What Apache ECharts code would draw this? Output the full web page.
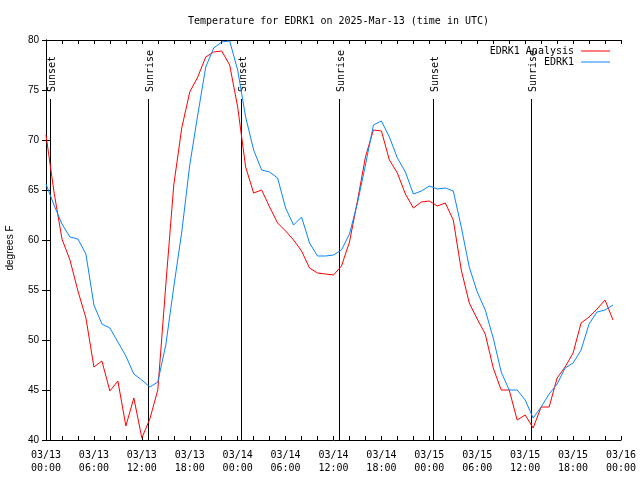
<!DOCTYPE html>
<html>
<head>
<meta charset="utf-8">
<script src="https://cdn.jsdelivr.net/npm/echarts@6/dist/echarts.min.js"></script>
<style>html,body{margin:0;padding:0;background:#fff}#c{width:640px;height:480px}</style>
</head>
<body>
<div id="c"></div>
<script>
// Hourly values, hour 0 = 03/13 00:00 UTC
const analysis = [70.5,64.8,60.1,58.0,54.9,52.2,47.3,47.9,44.9,45.9,41.4,44.2,40.2,42.1,45.0,55.5,65.5,71.2,74.8,76.3,78.3,78.8,78.9,77.5,
  73.3,67.3,64.7,65.0,63.3,61.7,60.9,60.0,58.9,57.2,56.7,56.6,56.5,57.4,59.8,63.9,68.3,71.0,70.9,68.0,66.7,64.6,63.2,63.8,
  63.9,63.4,63.7,62.0,57.0,53.7,52.1,50.6,47.2,45.0,45.0,42.0,42.5,41.2,43.3,43.3,46.2,47.3,48.7,51.7,52.3,53.1,54.0,52.0];
const observed = [65.6,63.5,61.6,60.3,60.1,58.6,53.5,51.6,51.2,49.8,48.4,46.6,46.0,45.3,45.8,49.5,55.3,60.8,67.5,72.5,77.3,79.2,79.8,79.9,
  77.0,72.3,69.0,67.0,66.8,66.2,63.2,61.5,62.3,59.7,58.4,58.4,58.5,59.0,60.6,63.7,67.5,71.5,71.9,70.3,68.2,66.8,64.6,64.9,
  65.4,65.1,65.2,64.9,61.3,57.3,54.8,53.0,50.2,46.8,45.0,45.0,44.0,42.2,43.3,44.6,45.6,47.2,47.7,49.0,51.6,52.8,53.0,53.5];
const sunLabels = ['Sunset','Sunrise','Sunset','Sunrise','Sunset','Sunrise'];
const sunHours = [0.5,12.77,24.43,36.67,48.44,60.70];
const sunLineTop = 74.1;
const xTickHours = [0,6,12,18,24,30,36,42,48,54,60,66,72];
const xTickLabels = ['03/13\n00:00','03/13\n06:00','03/13\n12:00','03/13\n18:00','03/14\n00:00','03/14\n06:00','03/14\n12:00',
  '03/14\n18:00','03/15\n00:00','03/15\n06:00','03/15\n12:00','03/15\n18:00','03/16\n00:00'];
const seriesNames = ['EDRK1 Analysis','EDRK1'];

const mono = 'DejaVu Sans Mono';
const sans = 'Liberation Sans';
const chart = echarts.init(document.getElementById('c'), null, {renderer:'canvas'});
const axLine = {show:true, lineStyle:{color:'#000', width:1}};
const tick = {show:true, inside:true, length:4, lineStyle:{color:'#000', width:1}};
chart.setOption({
  animation:false,
  backgroundColor:'#fff',
  title:{text:'Temperature for EDRK1 on 2025-Mar-13 (time in UTC)', left:183, top:11,
    textStyle:{fontFamily:mono, fontSize:10, fontWeight:'normal', color:'#000'}},
  legend:{orient:'vertical', right:30, top:46, align:'right', icon:'rect', itemWidth:29, itemHeight:1, itemGap:1, padding:0,
    data:seriesNames, textStyle:{fontFamily:mono, fontSize:10, color:'#000', padding:[0,2,0,0]}},
  grid:{left:46, right:19, top:40, bottom:40},
  graphic:[{type:'text', x:10, y:248, rotation:Math.PI/2,
    style:{text:'degrees F', font:'10px '+sans, fill:'#000', align:'center', verticalAlign:'middle'}}],
  xAxis:[
    {type:'value', min:0, max:72, interval:2, position:'bottom', axisLine:axLine, axisTick:tick, splitLine:{show:false},
      axisLabel:{margin:9, fontFamily:mono, fontSize:10, lineHeight:13, color:'#000', showMinLabel:true, showMaxLabel:true,
        formatter:function(v){const i=xTickHours.indexOf(v); return i>=0?xTickLabels[i]:'';}}},
    {type:'value', min:0, max:72, interval:2, position:'top', axisLine:axLine, axisTick:tick, splitLine:{show:false}, axisLabel:{show:false}}
  ],
  yAxis:[
    {type:'value', min:40, max:80, interval:5, position:'left', axisLine:axLine, axisTick:tick, splitLine:{show:false},
      axisLabel:{margin:7, fontFamily:sans, fontSize:10, color:'#000'}},
    {type:'value', min:40, max:80, interval:5, position:'right', axisLine:axLine, axisTick:tick, splitLine:{show:false}, axisLabel:{show:false}}
  ],
  series:[
    {type:'custom', xAxisIndex:0, yAxisIndex:0, silent:true, clip:false,
      data:sunHours.map((h,i)=>[h,i]),
      renderItem:function(params, api){
        const h = api.value(0);
        const p0 = api.coord([h,40]);
        const p1 = api.coord([h,sunLineTop]);
        const x = Math.round(p0[0])+0.5;
        return {type:'group', children:[
          {type:'line', shape:{x1:x,y1:p0[1],x2:x,y2:p1[1]}, style:{stroke:'#000', lineWidth:1}},
          {type:'text', x:x+2, y:p1[1]-7, rotation:Math.PI/2,
            style:{text:sunLabels[params.dataIndex], font:'10px '+mono, fill:'#000', align:'left', verticalAlign:'middle'}}
        ]};
      }},
    {name:seriesNames[0], type:'line', symbol:'none', data:analysis.map((v,i)=>[i,v]),
      lineStyle:{color:'#ff0000', width:1}, itemStyle:{color:'#ff0000'}},
    {name:seriesNames[1], type:'line', symbol:'none', data:observed.map((v,i)=>[i,v]),
      lineStyle:{color:'#0a84ff', width:1}, itemStyle:{color:'#0a84ff'}}
  ]
});
</script>
</body>
</html>
